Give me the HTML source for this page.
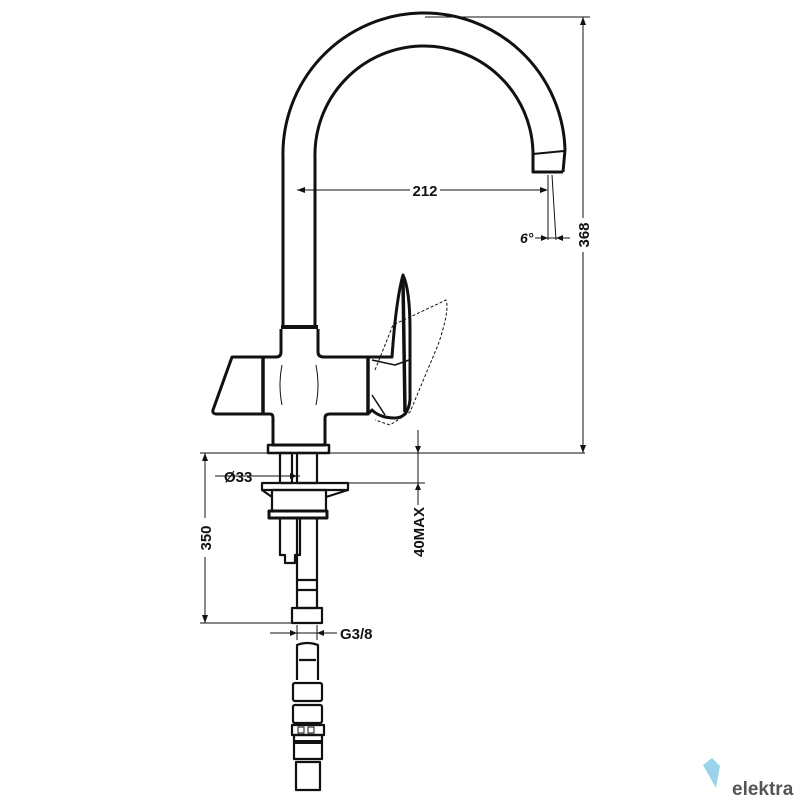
<!DOCTYPE html>
<html><head><meta charset="utf-8"><style>body{margin:0;background:#fff}svg{display:block}text{font-family:"Liberation Sans",sans-serif;font-weight:bold;fill:#111}</style></head>
<body>
<svg width="800" height="800" viewBox="0 0 800 800" xmlns="http://www.w3.org/2000/svg">
<g fill="none" stroke="#111" stroke-width="3" stroke-linejoin="round">
<!-- spout -->
<path d="M283 328 L283 158 A141 141 0 0 1 565 150 L563 172"/>
<path d="M315 328 L315 158 A109 109 0 0 1 533 152 L533 172 L563 172"/>
<path d="M533 154 L564 151" stroke-width="2"/>
<path d="M281 327 L318 327" stroke-width="4"/>
<!-- body -->
<path d="M281 329 L281 352 Q281 357 276 357 L232 357 L213 410 Q212 414 217 414 L270 414 Q273 414 273 418 L273 445 L325 445 L325 418 Q325 414 330 414 L368 414 L368 357 L324 357 Q318 357 318 352 L318 329"/>
<path d="M263 357 L263 414 M368 357 L368 414" stroke-width="3.5"/>
<path d="M282 365 Q278 385 282 405 M316 365 Q320 385 316 405" stroke-width="1"/>
<!-- handle -->
<path d="M368 357 L392 357 Q396 300 403 275 Q410 290 410 330 L410 400 Q408 418 395 418 Q380 418 372 410 L368 414" />
<path d="M403 280 L405 412" stroke-width="3.5"/>
<path d="M372 360 L395 365 L409 360 M372 395 L385 415" stroke-width="1.5"/>
<path d="M375 370 L393 325 L446 300 Q450 310 438 345 L410 412 L390 425 L375 420" stroke-width="1" stroke-dasharray="3,2"/>
<rect x="268" y="445" width="61" height="8" stroke-width="2.5"/>
<g stroke-width="2.2">
<rect x="280" y="453" width="12" height="30"/>
<rect x="297" y="453" width="20" height="30"/>
<rect x="262" y="483" width="86" height="7"/>
<path d="M262 490 L272 497 M348 490 L326 497"/>
<rect x="272" y="490" width="54" height="21"/>
<rect x="269" y="511" width="58" height="7" stroke-width="3"/>
<path d="M280 518 L280 555 L285 555 L285 563 L295 563 L295 555 L300 555 L300 518"/>
<rect x="297" y="518" width="20" height="90"/>
<path d="M297 580 L317 580 M297 590 L317 590"/>
<rect x="292" y="608" width="30" height="15"/>
<path d="M297 680 L297 645 Q307 641 318 645 L318 680"/>
<path d="M299 660 L316 660"/>
<rect x="293" y="683" width="29" height="18" rx="2"/>
<rect x="293" y="705" width="29" height="18" rx="2"/>
<rect x="292" y="725" width="32" height="10"/>
<rect x="294" y="735" width="28" height="24"/>
<path d="M294 742 L322 742" stroke-width="4"/>
<rect x="296" y="762" width="24" height="28"/>
</g>
</g>
<rect x="298" y="727" width="6" height="6" fill="#fff" stroke="#111"/><rect x="308" y="727" width="6" height="6" fill="#fff" stroke="#111"/>
<g stroke="#111" stroke-width="1" fill="none">
<path d="M425 17 L590 17 M583 17 L583 453 M200 453 L585 453"/>
<path d="M297 190 L545 190"/>
<path d="M548 175 L548 240 M552 175 L556 240"/>
<path d="M535 238 L570 238"/>
<path d="M205 453 L205 623 M200 623 L300 623"/>
<path d="M215 476 L300 476"/>
<path d="M330 483 L425 483 M418 430 L418 520"/>
<path d="M270 633 L337 633 M297 625 L297 640 M317 625 L317 640"/>
</g>
<g fill="#111">
<path d="M297 190 l8 -3 v6z M548 190 l-8 -3 v6z"/>
<path d="M583 17 l-3 8 h6z M583 453 l-3 -8 h6z"/>
<path d="M205 453 l-3 8 h6z M205 623 l-3 -8 h6z"/>
<path d="M297 476 l-7 -3 v6z"/>
<path d="M418 453 l-3 -7 h6z M418 483 l-3 7 h6z"/>
<path d="M297 633 l-7 -3 v6z M317 633 l7 -3 v6z"/>
<path d="M548 238 l-7 -3 v6z M556 238 l7 -3 v6z"/>
</g>
<g stroke="#fff" stroke-width="8"><path d="M410 190 L440 190 M583 218 L583 252 M205 518 L205 557 M418 505 L418 562"/></g>
<text x="425" y="196" font-size="15" text-anchor="middle">212</text>
<text x="520" y="243" font-size="14" font-style="italic">6°</text>
<text transform="translate(589,235) rotate(-90)" font-size="15" text-anchor="middle">368</text>
<text transform="translate(211,538) rotate(-90)" font-size="15" text-anchor="middle">350</text>
<text transform="translate(424,532) rotate(-90)" font-size="15" text-anchor="middle">40MAX</text>
<text x="224" y="482" font-size="15">Ø33</text>
<text x="340" y="639" font-size="15">G3/8</text>
<path d="M703 765 L712 758 L720 766 L716 788 Z" fill="#9cd3ec"/>
<text x="732" y="795" font-size="19" font-weight="normal" style="fill:#555">elektra</text>
</svg>
</body></html>
